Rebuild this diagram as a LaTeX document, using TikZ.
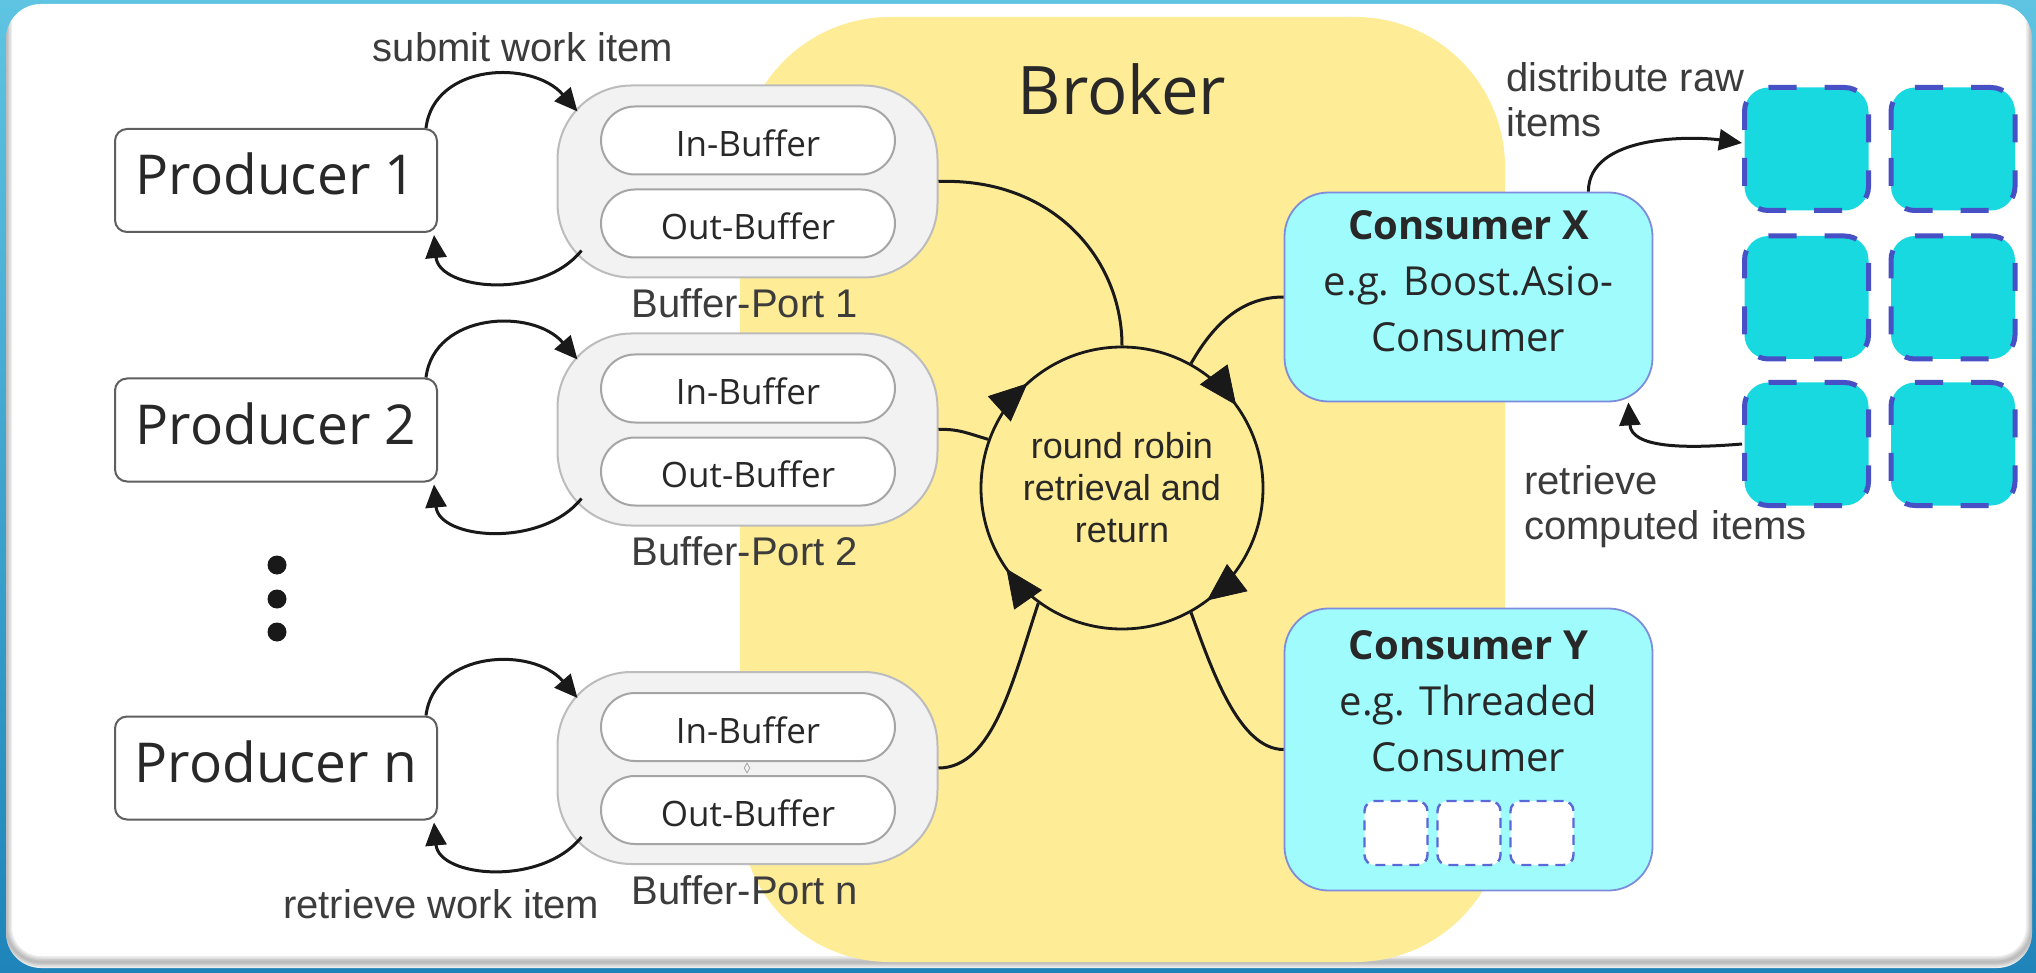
\documentclass[tikz,border=0pt]{standalone}
\usepackage{fontspec}
\setmainfont{Open Sans}
\newfontfamily\labelfont{Liberation Sans}
\usetikzlibrary{arrows.meta,calc,shapes.misc,shapes.geometric,decorations.markings}

\definecolor{bgtop}{RGB}{94,196,226}
\definecolor{bgbot}{RGB}{30,132,186}
\definecolor{brokerfill}{RGB}{255,236,150}
\definecolor{portfill}{RGB}{242,242,242}
\definecolor{portline}{RGB}{188,188,188}
\definecolor{bufline}{RGB}{165,165,165}
\definecolor{prodline}{RGB}{95,95,95}
\definecolor{consfill}{RGB}{160,251,253}
\definecolor{consline}{RGB}{125,140,220}
\definecolor{sqfill}{RGB}{24,217,224}
\definecolor{sqline}{RGB}{72,80,198}
\definecolor{threadline}{RGB}{90,104,216}
\definecolor{txtdark}{RGB}{40,40,40}
\definecolor{txtmid}{RGB}{60,60,60}
\definecolor{ink}{RGB}{25,25,25}

\begin{document}
\begin{tikzpicture}[x=0.5pt,y=0.5pt,
  producer/.style={draw=prodline, line width=1pt, fill=white, rounded corners=6pt,
    minimum width=161pt, minimum height=51.5pt, inner sep=0pt,
    font=\fontsize{27.5pt}{30pt}\selectfont, text=txtdark, text height=14.5pt, text depth=0pt},
  port/.style={draw=portline, fill=portfill, line width=1pt, rounded corners=37pt,
    minimum width=190pt, minimum height=96pt, inner sep=0pt},
  buffer/.style={rounded rectangle, draw=bufline, fill=white, line width=1pt,
    minimum width=147pt, minimum height=34pt, inner sep=0pt,
    font=\fontsize{17.5pt}{20pt}\selectfont, text=txtdark, text height=16pt, text depth=0pt},
  lbl/.style={inner sep=0pt, text=txtmid, font=\labelfont\fontsize{20pt}{22.5pt}\selectfont},
  consumer/.style={draw=consline, fill=consfill, line width=0.9pt, rounded corners=22pt,
    minimum width=184pt, inner sep=0pt},
  constext/.style={inner sep=0pt, align=center, text=txtdark,
    font=\fontsize{20pt}{28pt}\selectfont},
  task/.style={draw=sqline, fill=sqfill, line width=2.5pt, dash pattern=on 14pt off 14pt,
    dash phase=4pt, rounded corners=12pt, minimum width=62pt, minimum height=61.5pt, inner sep=0pt},
  thread/.style={draw=threadline, fill=white, line width=1.2pt, dash pattern=on 5pt off 3.5pt,
    rounded corners=5pt, minimum width=31.5pt, minimum height=32pt, inner sep=0pt},
  dot/.style={circle, fill=ink, minimum size=9.5pt, inner sep=0pt},
  conn/.style={draw=ink, line width=1.5pt},
  tip/.style={-{Triangle[length=11.5pt,width=10.5pt]}},
  rrtip/.style={ink},
]
\useasboundingbox (0,0) rectangle (2036,-973);

% backdrop and panel
\shade[top color=bgtop, bottom color=bgbot] (0,0) rectangle (2036,-973);
\fill[white, rounded corners=17.5pt] (6,-4) rectangle (2032,-968);
\begin{scope}
  \clip[rounded corners=17.5pt] (6,-4) rectangle (2032,-968);
  \foreach \w in {1.5,3,4.5,6}
    \draw[black, opacity=0.07, line width=\w pt, rounded corners=17.5pt] (6,10) rectangle (2032,-962);
\end{scope}

% broker area
\fill[brokerfill, rounded corners=75pt] (740,-17) rectangle (1505,-962);
\node[anchor=base, inner sep=0pt, text=txtdark, font=\fontsize{33.5pt}{36pt}\selectfont] (broker) at (1122,-115) {Broker};

% producers
\node[producer] (p1) at (276,-180.5) {Producer 1};
\node[producer] (p2) at (276,-430) {Producer 2};
\node[producer] (pn) at (276,-768) {Producer n};
\node[dot] (d1) at (277,-565) {};
\node[dot] (d2) at (277,-599) {};
\node[dot] (d3) at (277,-632) {};

% buffer ports
\node[port] (bp1) at (747.5,-181.5) {};
\node[buffer] (in1) at (748,-140.5) {In-Buffer};
\node[buffer] (out1) at (748,-223.5) {Out-Buffer};
\node[port] (bp2) at (747.5,-429.5) {};
\node[buffer] (in2) at (748,-388.5) {In-Buffer};
\node[buffer] (out2) at (748,-471.5) {Out-Buffer};
\node[port] (bpn) at (747.5,-768) {};
\node[buffer] (inn) at (748,-727) {In-Buffer};
\node[buffer] (outn) at (748,-810) {Out-Buffer};
\node[diamond, draw=gray!70, line width=0.4pt, minimum width=3pt, minimum height=5pt, inner sep=0pt] (jn) at (747,-768) {};

\node[lbl, anchor=base] (lbp1) at (745,-318) {Buffer-Port 1};
\node[lbl, anchor=base] (lbp2) at (745,-565) {Buffer-Port 2};
\node[lbl, anchor=base] (lbpn) at (745,-904) {Buffer-Port n};
\node[lbl, anchor=base] (lsubmit) at (523,-62) {submit work item};
\node[lbl, anchor=base] (lretrieve) at (441,-918) {retrieve work item};

% producer <-> port exchanges
\foreach \p/\b in {p1/bp1, p2/bp2, pn/bpn}{
  \draw[conn, tip] ($(\p.north east)+(-12,0)$) .. controls +(8,65) and +(-45,52) .. ($(\b.north west)+(21,-27)$);
  \draw[conn, tip] ($(\b.south west)+(25,28)$) .. controls +(-40,-50) and +(5,-55) .. ($(\p.south east)+(-4,-2)$);
}

% round robin
\node[circle, draw=ink, line width=1.4pt, minimum size=141pt, inner sep=0pt, align=center,
  text=txtdark, font=\labelfont\fontsize{18pt}{21pt}\selectfont] (rr) at (1122,-488)
  {round robin\\retrieval and\\return};
\path[postaction={decorate}, decoration={markings,
    mark=at position 0.15 with {\arrow[rrtip]{Triangle[length=19pt,width=17pt]}},
    mark=at position 0.397 with {\arrow[rrtip]{Triangle[length=19pt,width=17pt]}},
    mark=at position 0.653 with {\arrow[rrtip]{Triangle[length=19pt,width=17pt]}},
    mark=at position 0.883 with {\arrow[rrtip]{Triangle[length=19pt,width=17pt]}}}]
  (rr.center) ++(90:141) arc[start angle=90, delta angle=-360, radius=141];

% consumers
\node[consumer, minimum height=104.5pt] (cx) at (1468.5,-297) {};
\node[constext] (cxt) at (1468.5,-281.5) {\textbf{Consumer X}\\e.g. Boost.Asio-\\Consumer};
\node[consumer, minimum height=141pt] (cy) at (1468.5,-749.5) {};
\node[constext] (cyt) at (1468.5,-701) {\textbf{Consumer Y}\\e.g. Threaded\\Consumer};
\node[thread] (t1) at (1396,-833) {};
\node[thread] (t2) at (1469,-833) {};
\node[thread] (t3) at (1542,-833) {};

% links into the round robin
\draw[conn] (bp1.east) .. controls +(114,4) and +(0,87) .. (rr.north);
\draw[conn] (bp2.east) .. controls +(20,1) and +(-18,5) .. (rr.160);
\draw[conn] (bpn.east) .. controls +(55,0) and +(-25,-75) .. (rr.234);
\draw[conn] (cx.west) .. controls +(-45,0) and +(20,35) .. (rr.61);
\draw[conn] (cy.west) .. controls +(-45,0) and +(20,-55) .. (rr.-61);

% work items of consumer X
\node[task] (s11) at (1806.5,-149) {};
\node[task] (s12) at (1953,-149) {};
\node[task] (s21) at (1806.5,-297.5) {};
\node[task] (s22) at (1953,-297.5) {};
\node[task] (s31) at (1806.5,-444) {};
\node[task] (s32) at (1953,-444) {};

\draw[conn, tip] ($(cx.north east)+(-65,0)$) .. controls +(0,57) and +(-50,7) .. ($(s11.west)+(0,6)$);
\draw[conn, tip] (s31.west) .. controls +(-60,-5) and +(3,-45) .. ($(cx.south east)+(-25,0)$);

\node[lbl, anchor=west, align=left] (ldist) at (1506,-100) {distribute raw\\items};
\node[lbl, anchor=west, align=left] (lcomp) at (1524,-507) {retrieve\\computed items};
\end{tikzpicture}
\end{document}
